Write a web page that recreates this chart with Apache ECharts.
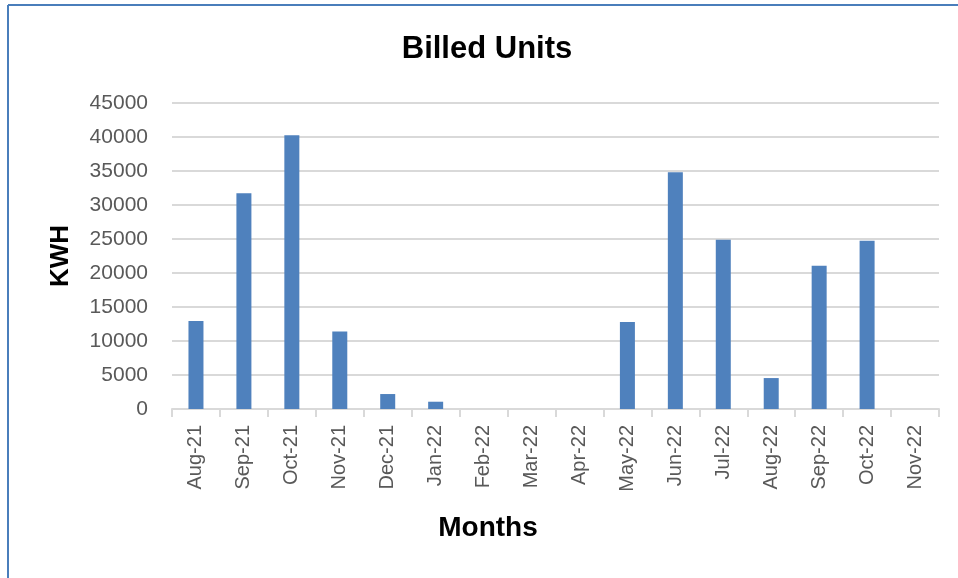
<!DOCTYPE html>
<html>
<head>
<meta charset="utf-8">
<script src="https://cdn.jsdelivr.net/npm/echarts@6/dist/echarts.min.js"></script>
<style>
html,body{margin:0;padding:0;background:#fff;}
#chart{width:958px;height:578px;}
</style>
</head>
<body>
<div id="chart"></div>
<script>
const months = ['Aug-21','Sep-21','Oct-21','Nov-21','Dec-21','Jan-22','Feb-22','Mar-22','Apr-22','May-22','Jun-22','Jul-22','Aug-22','Sep-22','Oct-22','Nov-22'];
const billedUnits = [12930, 31730, 40270, 11400, 2200, 1070, 0, 0, 0, 12800, 34800, 24900, 4550, 21050, 24750, 0];
const yTicks = {min: 0, max: 45000, interval: 5000};
const titleText = 'Billed Units';
const xName = 'Months';
const yName = 'KWH';

const FONT = '"Liberation Sans", Arial, sans-serif';
const chart = echarts.init(document.getElementById('chart'), null, {renderer: 'canvas'});
chart.setOption({
  animation: false,
  backgroundColor: '#ffffff',
  grid: {left: 172, right: 19, top: 103, bottom: 169, containLabel: false},
  xAxis: {
    type: 'category',
    data: months,
    boundaryGap: true,
    axisLine: {show: true, lineStyle: {color: '#d9d9d9', width: 2}},
    axisTick: {show: true, length: 8, lineStyle: {color: '#d9d9d9', width: 2}, alignWithLabel: false},
    axisLabel: {rotate: 90, interval: 0, margin: 16, fontSize: 20, color: '#595959', fontFamily: FONT}
  },
  yAxis: {
    type: 'value',
    min: yTicks.min, max: yTicks.max, interval: yTicks.interval,
    axisLine: {show: false},
    axisTick: {show: false},
    splitLine: {show: true, lineStyle: {color: '#d9d9d9', width: 2}},
    axisLabel: {margin: 24, fontSize: 21, color: '#595959', fontFamily: FONT, formatter: v => String(v)}
  },
  series: [{
    type: 'bar',
    data: billedUnits,
    barWidth: 15,
    itemStyle: {color: '#4f81bd'}
  }],
  graphic: [
    {type: 'line', shape: {x1: 8, y1: 5, x2: 958, y2: 5}, style: {stroke: '#4a7ebb', lineWidth: 2}},
    {type: 'line', shape: {x1: 8, y1: 5, x2: 8, y2: 578}, style: {stroke: '#4a7ebb', lineWidth: 2}},
    {type: 'text', x: 487, y: 49, style: {text: titleText, fontSize: 31, fontWeight: 'bold', fill: '#000', fontFamily: FONT, textAlign: 'center', textVerticalAlign: 'middle'}},
    {type: 'text', x: 488, y: 528, style: {text: xName, fontSize: 28, fontWeight: 'bold', fill: '#000', fontFamily: FONT, textAlign: 'center', textVerticalAlign: 'middle'}},
    {type: 'text', x: 61, y: 256, rotation: Math.PI / 2, style: {text: yName, fontSize: 26, fontWeight: 'bold', fill: '#000', fontFamily: FONT, textAlign: 'center', textVerticalAlign: 'middle'}}
  ]
});
</script>
</body>
</html>
